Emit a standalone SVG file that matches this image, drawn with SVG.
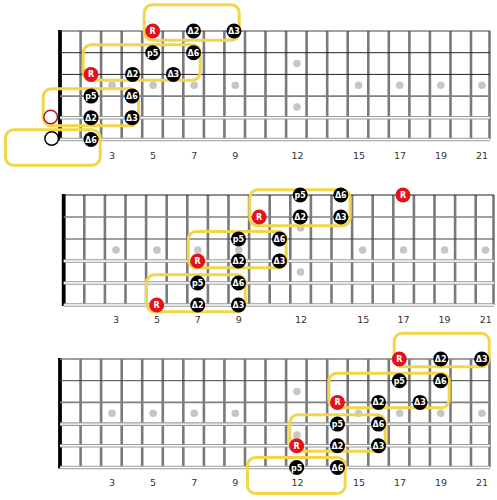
<svg xmlns="http://www.w3.org/2000/svg" width="497" height="500" viewBox="0 0 497 500">
<defs>
<style>
.fret{stroke:#7a7a7a;stroke-width:2.6;fill:none}
.nut{stroke:#000;stroke-width:3.8;fill:none}
.s1{stroke:#444;stroke-width:1;fill:none}
.s2{stroke:#222;stroke-width:1;fill:none}
.sg{stroke:#808080;stroke-width:1.6;fill:none}
.dbl{stroke:#9a9a9a;stroke-width:3.6;fill:none}
.dblw{stroke:#fff;stroke-width:1.4;fill:none}
.dot{fill:#c6c6c6}
.lbl{font-family:"DejaVu Sans","Liberation Sans",sans-serif;font-size:9.5px;fill:#333;text-anchor:middle}
.box{fill:none;stroke:#f2d64a;stroke-width:3}
.nb{fill:#000}
.nr{fill:#e3131b}
.nt{font-family:"DejaVu Sans","Liberation Sans",sans-serif;font-size:8px;font-weight:bold;fill:#fff;text-anchor:middle}
</style>
</defs>
<rect width="497" height="500" fill="#fff"/>

<!-- TOP FRETBOARD -->
<g id="board-top">
<path class="fret" d="M80.6 31V139.5M101.1 31V139.5M121.7 31V139.5M142.2 31V139.5M162.8 31V139.5M183.3 31V139.5M203.9 31V139.5M224.4 31V139.5M245 31V139.5M265.5 31V139.5M286.1 31V139.5M306.6 31V139.5M327.2 31V139.5M347.7 31V139.5M368.3 31V139.5M388.8 31V139.5M409.4 31V139.5M429.9 31V139.5M450.5 31V139.5M471 31V139.5M489.5 31V139.5"/>
<path class="nut" d="M60 30V140.5"/>
<path class="s1" d="M60 31H490"/>
<path class="s2" d="M60 52.7H490M60 74.4H490"/>
<path class="sg" d="M60 96.1H490"/>
<path class="dbl" d="M60 117.8H490M60 139.5H490"/>
<path class="dblw" d="M60 117.8H490M60 139.5H490"/>
<circle class="dot" cx="112" cy="85.2" r="3.8"/>
<circle class="dot" cx="153.1" cy="85.2" r="3.8"/>
<circle class="dot" cx="194.2" cy="85.2" r="3.8"/>
<circle class="dot" cx="235.3" cy="85.2" r="3.8"/>
<circle class="dot" cx="297" cy="63.5" r="3.8"/>
<circle class="dot" cx="297" cy="107" r="3.8"/>
<circle class="dot" cx="358.6" cy="85.2" r="3.8"/>
<circle class="dot" cx="399.7" cy="85.2" r="3.8"/>
<circle class="dot" cx="440.8" cy="85.2" r="3.8"/>
<circle class="dot" cx="481.9" cy="85.2" r="3.8"/>
<text class="lbl" x="112" y="158.5">3</text>
<text class="lbl" x="153.1" y="158.5">5</text>
<text class="lbl" x="194.2" y="158.5">7</text>
<text class="lbl" x="235.3" y="158.5">9</text>
<text class="lbl" x="297.5" y="158.5">12</text>
<text class="lbl" x="359" y="158.5">15</text>
<text class="lbl" x="400" y="158.5">17</text>
<text class="lbl" x="441" y="158.5">19</text>
<text class="lbl" x="482" y="158.5">21</text>
</g>
<g id="top-boxes">
<rect id="tb1" class="box" x="144.2" y="4.8" width="95" height="35.4" rx="8"/>
<rect id="tb2" class="box" x="83.2" y="44.8" width="117" height="35.4" rx="8"/>
<rect id="tb3" class="box" x="43.2" y="88.8" width="95.3" height="37" rx="8"/>
<rect id="tb4" class="box" x="5.5" y="129.8" width="94.7" height="35.4" rx="8"/>
</g>
<g id="top-notes">
<g id="t-open5"><circle cx="50.7" cy="117" r="6.8" fill="#fff" stroke="#b0161c" stroke-width="1.5"/></g>
<g id="t-open6"><circle cx="51.7" cy="138.5" r="6.8" fill="#fff" stroke="#000" stroke-width="1.5"/></g>
<g id="t-R1"><circle class="nr" cx="152.7" cy="31" r="7.5"/><text class="nt" x="152.7" y="34">R</text></g>
<g id="t-d2-1"><circle class="nb" cx="193.5" cy="31" r="7.5"/><text class="nt" x="193.5" y="34">Δ2</text></g>
<g id="t-d3-1"><circle class="nb" cx="234" cy="31" r="7.5"/><text class="nt" x="234" y="34">Δ3</text></g>
<g id="t-p5-2"><circle class="nb" cx="152.7" cy="52.7" r="7.5"/><text class="nt" x="152.7" y="55.7">p5</text></g>
<g id="t-d6-2"><circle class="nb" cx="193.5" cy="52.7" r="7.5"/><text class="nt" x="193.5" y="55.7">Δ6</text></g>
<g id="t-R3"><circle class="nr" cx="91" cy="74.4" r="7.5"/><text class="nt" x="91" y="77.4">R</text></g>
<g id="t-d2-3"><circle class="nb" cx="132.5" cy="74.4" r="7.5"/><text class="nt" x="132.5" y="77.4">Δ2</text></g>
<g id="t-d3-3"><circle class="nb" cx="173.3" cy="74.4" r="7.5"/><text class="nt" x="173.3" y="77.4">Δ3</text></g>
<g id="t-p5-4"><circle class="nb" cx="91" cy="96.1" r="7.5"/><text class="nt" x="91" y="99.1">p5</text></g>
<g id="t-d6-4"><circle class="nb" cx="132" cy="96.1" r="7.5"/><text class="nt" x="132" y="99.1">Δ6</text></g>
<g id="t-d2-5"><circle class="nb" cx="91" cy="117.8" r="7.5"/><text class="nt" x="91" y="120.8">Δ2</text></g>
<g id="t-d3-5"><circle class="nb" cx="132" cy="117.8" r="7.5"/><text class="nt" x="132" y="120.8">Δ3</text></g>
<g id="t-d6-6"><circle class="nb" cx="91" cy="139.5" r="7.5"/><text class="nt" x="91" y="142.5">Δ6</text></g>
</g>

<!-- MIDDLE FRETBOARD -->
<g id="board-mid">
<path class="fret" d="M84.3 195V305M104.9 195V305M125.5 195V305M146.1 195V305M166.7 195V305M187.3 195V305M207.9 195V305M228.5 195V305M249.1 195V305M269.7 195V305M290.3 195V305M310.9 195V305M331.5 195V305M352.1 195V305M372.7 195V305M393.3 195V305M413.9 195V305M434.5 195V305M455.1 195V305M475.7 195V305M493.5 195V305"/>
<path class="nut" d="M63.7 194V306"/>
<path class="s2" d="M63.7 195H494"/>
<path class="sg" d="M63.7 217H494"/>
<path class="s1" d="M63.7 239H494"/>
<path class="dbl" d="M63.7 261H494M63.7 283H494M63.7 305H494"/>
<path class="dblw" d="M63.7 261H494M63.7 283H494M63.7 305H494"/>
<circle class="dot" cx="116" cy="250" r="3.8"/>
<circle class="dot" cx="156.9" cy="250" r="3.8"/>
<circle class="dot" cx="197.8" cy="250" r="3.8"/>
<circle class="dot" cx="238.7" cy="250" r="3.8"/>
<circle class="dot" cx="300.6" cy="228" r="3.8"/>
<circle class="dot" cx="300.6" cy="272" r="3.8"/>
<circle class="dot" cx="362.6" cy="250" r="3.8"/>
<circle class="dot" cx="403.5" cy="250" r="3.8"/>
<circle class="dot" cx="444.6" cy="250" r="3.8"/>
<circle class="dot" cx="485.5" cy="250" r="3.8"/>
<text class="lbl" x="116" y="323">3</text>
<text class="lbl" x="156.9" y="323">5</text>
<text class="lbl" x="197.8" y="323">7</text>
<text class="lbl" x="238.7" y="323">9</text>
<text class="lbl" x="301" y="323">12</text>
<text class="lbl" x="363.3" y="323">15</text>
<text class="lbl" x="403.5" y="323">17</text>
<text class="lbl" x="444.5" y="323">19</text>
<text class="lbl" x="485.7" y="323">21</text>
</g>
<g id="mid-boxes">
<rect id="mb1" class="box" x="249.8" y="189.8" width="100.4" height="36" rx="8"/>
<rect id="mb2" class="box" x="188.2" y="231.5" width="98" height="36.3" rx="8"/>
<rect id="mb3" class="box" x="146.5" y="274.8" width="98.7" height="37" rx="8"/>
</g>
<g id="mid-notes">
<g id="m-p5-1"><circle class="nb" cx="300.2" cy="195" r="7.5"/><text class="nt" x="300.2" y="198">p5</text></g>
<g id="m-d6-1"><circle class="nb" cx="340.8" cy="195" r="7.5"/><text class="nt" x="340.8" y="198">Δ6</text></g>
<g id="m-R1"><circle class="nr" cx="403" cy="195" r="7.5"/><text class="nt" x="403" y="198">R</text></g>
<g id="m-R2"><circle class="nr" cx="259.2" cy="217" r="7.5"/><text class="nt" x="259.2" y="220">R</text></g>
<g id="m-d2-2"><circle class="nb" cx="300.2" cy="217" r="7.5"/><text class="nt" x="300.2" y="220">Δ2</text></g>
<g id="m-d3-2"><circle class="nb" cx="340.8" cy="217" r="7.5"/><text class="nt" x="340.8" y="220">Δ3</text></g>
<g id="m-p5-3"><circle class="nb" cx="238.5" cy="239" r="7.5"/><text class="nt" x="238.5" y="242">p5</text></g>
<g id="m-d6-3"><circle class="nb" cx="279.5" cy="239" r="7.5"/><text class="nt" x="279.5" y="242">Δ6</text></g>
<g id="m-R4"><circle class="nr" cx="197.7" cy="261" r="7.5"/><text class="nt" x="197.7" y="264">R</text></g>
<g id="m-d2-4"><circle class="nb" cx="238.5" cy="261" r="7.5"/><text class="nt" x="238.5" y="264">Δ2</text></g>
<g id="m-d3-4"><circle class="nb" cx="279.5" cy="261" r="7.5"/><text class="nt" x="279.5" y="264">Δ3</text></g>
<g id="m-p5-5"><circle class="nb" cx="197.7" cy="283" r="7.5"/><text class="nt" x="197.7" y="286">p5</text></g>
<g id="m-d6-5"><circle class="nb" cx="238.5" cy="283" r="7.5"/><text class="nt" x="238.5" y="286">Δ6</text></g>
<g id="m-R6"><circle class="nr" cx="156.7" cy="305" r="7.5"/><text class="nt" x="156.7" y="308">R</text></g>
<g id="m-d2-6"><circle class="nb" cx="197.7" cy="305" r="7.5"/><text class="nt" x="197.7" y="308">Δ2</text></g>
<g id="m-d3-6"><circle class="nb" cx="238.5" cy="305" r="7.5"/><text class="nt" x="238.5" y="308">Δ3</text></g>
</g>

<!-- BOTTOM FRETBOARD -->
<g id="board-bot">
<path class="fret" d="M80.6 359V467.5M101.1 359V467.5M121.7 359V467.5M142.2 359V467.5M162.8 359V467.5M183.3 359V467.5M203.9 359V467.5M224.4 359V467.5M245 359V467.5M265.5 359V467.5M286.1 359V467.5M306.6 359V467.5M327.2 359V467.5M347.7 359V467.5M368.3 359V467.5M388.8 359V467.5M409.4 359V467.5M429.9 359V467.5M450.5 359V467.5M471 359V467.5M489.5 359V467.5"/>
<path class="nut" d="M60 358V468.5"/>
<path class="sg" d="M60 359H490"/>
<path class="s1" d="M60 380.7H490"/>
<path class="sg" d="M60 402.4H490"/>
<path class="dbl" d="M60 424.1H490M60 445.8H490M60 467.5H490"/>
<path class="dblw" d="M60 424.1H490M60 445.8H490M60 467.5H490"/>
<circle class="dot" cx="112" cy="413.2" r="3.8"/>
<circle class="dot" cx="153.1" cy="413.2" r="3.8"/>
<circle class="dot" cx="194.2" cy="413.2" r="3.8"/>
<circle class="dot" cx="235.3" cy="413.2" r="3.8"/>
<circle class="dot" cx="297" cy="391.5" r="3.8"/>
<circle class="dot" cx="297" cy="435" r="3.8"/>
<circle class="dot" cx="358.6" cy="413.2" r="3.8"/>
<circle class="dot" cx="399.7" cy="413.2" r="3.8"/>
<circle class="dot" cx="440.8" cy="413.2" r="3.8"/>
<circle class="dot" cx="481.9" cy="413.2" r="3.8"/>
<text class="lbl" x="112" y="486">3</text>
<text class="lbl" x="153.1" y="486">5</text>
<text class="lbl" x="194.2" y="486">7</text>
<text class="lbl" x="235.3" y="486">9</text>
<text class="lbl" x="297.5" y="486">12</text>
<text class="lbl" x="359" y="486">15</text>
<text class="lbl" x="400" y="486">17</text>
<text class="lbl" x="441" y="486">19</text>
<text class="lbl" x="482" y="486">21</text>
</g>
<g id="bot-boxes">
<rect id="bb1" class="box" x="394.2" y="333.2" width="95" height="33.6" rx="8"/>
<rect id="bb2" class="box" x="328.8" y="373.2" width="120.4" height="34.6" rx="8"/>
<rect id="bb3" class="box" x="289.8" y="414.8" width="95.4" height="36.4" rx="8"/>
<rect id="bb4" class="box" x="247.5" y="457.5" width="97.7" height="36" rx="8"/>
</g>
<g id="bot-notes">
<g id="b-R1"><circle class="nr" cx="399.3" cy="359" r="7.5"/><text class="nt" x="399.3" y="362">R</text></g>
<g id="b-d2-1"><circle class="nb" cx="440.7" cy="359" r="7.5"/><text class="nt" x="440.7" y="362">Δ2</text></g>
<g id="b-d3-1"><circle class="nb" cx="481.7" cy="359" r="7.5"/><text class="nt" x="481.7" y="362">Δ3</text></g>
<g id="b-p5-2"><circle class="nb" cx="399.3" cy="380.7" r="7.5"/><text class="nt" x="399.3" y="383.7">p5</text></g>
<g id="b-d6-2"><circle class="nb" cx="440.7" cy="380.7" r="7.5"/><text class="nt" x="440.7" y="383.7">Δ6</text></g>
<g id="b-R3"><circle class="nr" cx="337.5" cy="402.4" r="7.5"/><text class="nt" x="337.5" y="405.4">R</text></g>
<g id="b-d2-3"><circle class="nb" cx="378.5" cy="402.4" r="7.5"/><text class="nt" x="378.5" y="405.4">Δ2</text></g>
<g id="b-d3-3"><circle class="nb" cx="420" cy="402.4" r="7.5"/><text class="nt" x="420" y="405.4">Δ3</text></g>
<g id="b-p5-4"><circle class="nb" cx="337.5" cy="424.1" r="7.5"/><text class="nt" x="337.5" y="427.1">p5</text></g>
<g id="b-d6-4"><circle class="nb" cx="378.5" cy="424.1" r="7.5"/><text class="nt" x="378.5" y="427.1">Δ6</text></g>
<g id="b-R5"><circle class="nr" cx="296.7" cy="445.8" r="7.5"/><text class="nt" x="296.7" y="448.8">R</text></g>
<g id="b-d2-5"><circle class="nb" cx="337.5" cy="445.8" r="7.5"/><text class="nt" x="337.5" y="448.8">Δ2</text></g>
<g id="b-d3-5"><circle class="nb" cx="378.5" cy="445.8" r="7.5"/><text class="nt" x="378.5" y="448.8">Δ3</text></g>
<g id="b-p5-6"><circle class="nb" cx="296.7" cy="467.5" r="7.5"/><text class="nt" x="296.7" y="470.5">p5</text></g>
<g id="b-d6-6"><circle class="nb" cx="337.5" cy="467.5" r="7.5"/><text class="nt" x="337.5" y="470.5">Δ6</text></g>
</g>
<g id="connectors"/>
</svg>
